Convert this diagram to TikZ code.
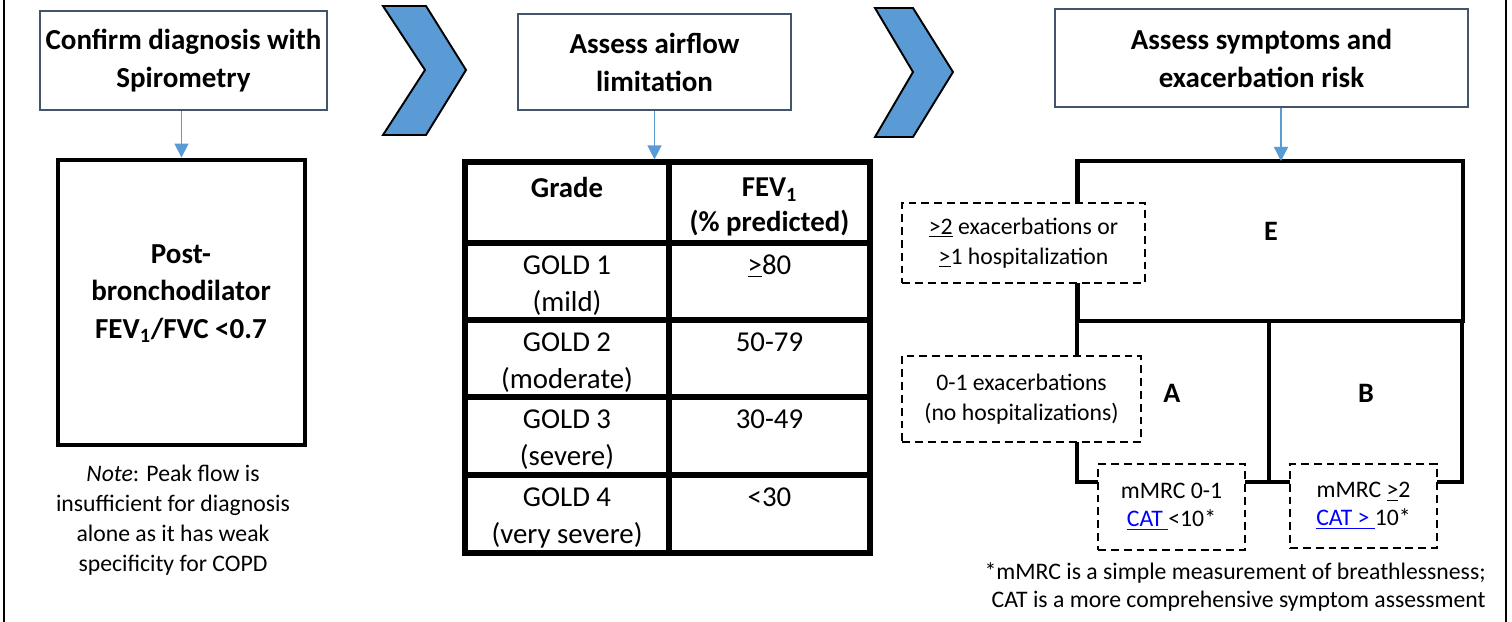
\documentclass[tikz,border=0pt]{standalone}
\usepackage{fontspec}
\setmainfont{Carlito}
\usetikzlibrary{arrows.meta, positioning, calc}
\definecolor{ink}{HTML}{000000}
\definecolor{slate}{HTML}{44546A}
\definecolor{flowblue}{HTML}{5B9BD5}
\definecolor{linkblue}{HTML}{0000FF}

\begin{document}
\begin{tikzpicture}[
  x=0.02cm, y=-0.02cm,
  headbox/.style={draw=slate, line width=1pt, rectangle, align=center, inner sep=2pt, font=\fontsize{16.5}{21.6}\selectfont\bfseries},
  thickbox/.style={draw=ink, line width=2.8pt, rectangle, inner sep=0pt},
  thickline/.style={draw=ink, line width=2.8pt, line join=miter},
  rule/.style={draw=ink, line width=3pt},
  note/.style={align=center, anchor=base, inner sep=0pt, font=\fontsize{13.5}{17}\selectfont},
  cell/.style={align=center, anchor=base, inner sep=0pt, font=\fontsize{16.4}{21}\selectfont},
  headcell/.style={cell, font=\fontsize{16.4}{19.4}\selectfont\bfseries},
  dashbox/.style={draw=ink, dash pattern=on 4.5pt off 2.8pt, line width=0.8pt, fill=white, rectangle, align=center, inner sep=0pt, font=\fontsize{13.5}{17}\selectfont},
  grouplabel/.style={font=\fontsize{16}{18}\selectfont\bfseries, inner sep=0pt},
  chevron/.style={draw=ink, fill=flowblue, line width=1.1pt, line join=miter},
  flow/.style={draw=flowblue, line width=0.8pt, -{Triangle[length=8pt, width=8pt]}},
  frame/.style={draw=ink, line width=1.1pt}
]
\useasboundingbox (0,0) rectangle (1512,622);
\draw[frame] (4,0) -- (4,622);
\draw[frame] (1506,0) -- (1506,622);

% step headers
\node[headbox, minimum width=5.74cm, minimum height=1.98cm] (confirm) at (183.5,60.5) {Confirm diagnosis with\\Spirometry};
\node[headbox, minimum width=5.46cm, minimum height=1.92cm] (airflow) at (654.5,62) {Assess airflow\\limitation};
\node[headbox, minimum width=8.26cm, minimum height=1.96cm] (symptoms) at (1261.5,58) {Assess symptoms and\\exacerbation risk};

\draw[chevron] (383,6) -- (426,6) -- (466,70) -- (426,135) -- (383,135) -- (425,70) -- cycle;
\draw[chevron] (875,8) -- (913,8) -- (953,72) -- (913,137) -- (875,137) -- (913,72) -- cycle;

% spirometry (base = last line)
\node[thickbox, minimum width=4.94cm, minimum height=5.7cm] (postbd) at (181.5,302.5) {};
\node[cell, font=\fontsize{16.5}{21.3}\selectfont\bfseries] (ratio) at (181,338) {Post-\\bronchodilator\\FEV\textsubscript{1}/FVC <0.7};
\node[note] (peaknote) at (173,571) {\textit{Note}: Peak flow is\\insufficient for diagnosis\\alone as it has weak\\specificity for COPD};
\draw[flow] (confirm.south -| postbd) -- (postbd.north);

% airflow table
\node[draw=ink, line width=3pt, rectangle, inner sep=0pt, minimum width=8.1cm, minimum height=7.82cm] (airtable) at (667.5,357.5) {};
\draw[rule] (669,162) -- (669,553);
\draw[rule] (465,243) -- (870,243);
\draw[rule] (465,320) -- (870,320);
\draw[rule] (465,397) -- (870,397);
\draw[rule] (465,475) -- (870,475);
\node[headcell] (gradehd) at (567,197) {Grade};
\node[headcell] (fevhd) at (769.5,231) {FEV\textsubscript{1}\\(\% predicted)};
\node[cell] (gold1) at (567,311) {GOLD 1\\(mild)};
\node[cell] (fev1) at (769.5,274) {\underline{>}80};
\node[cell] (gold2) at (567,388) {GOLD 2\\(moderate)};
\node[cell] (fev2) at (769.5,351) {50-79};
\node[cell] (gold3) at (567,465) {GOLD 3\\(severe)};
\node[cell] (fev3) at (769.5,428) {30-49};
\node[cell] (gold4) at (567,543) {GOLD 4\\(very severe)};
\node[cell] (fev4) at (769.5,506) {<30};
\draw[flow] (airflow.south) -- (airflow.south |- airtable.north);

% ABE grid
\node[thickbox, minimum width=7.72cm, minimum height=3.2cm] (boxE) at (1270,241) {};
\draw[thickline] (1077,321) -- (1077,482) -- (1462,482) -- (1462,321);
\draw[thickline] (1269,321) -- (1269,482);
\node[grouplabel] (labE) at (1271,231) {E};
\node[grouplabel] (labA) at (1172,393) {A};
\node[grouplabel] (labB) at (1366,393) {B};
\coordinate (eIn) at (1281,161);
\draw[flow] (symptoms.south -| eIn) -- (eIn);

\node[dashbox, minimum width=4.86cm, minimum height=1.6cm] (risk1) at (1023.5,243) {\underline{>2} exacerbations or\\\underline{>}1 hospitalization};
\node[dashbox, minimum width=4.78cm, minimum height=1.72cm] (risk0) at (1021.5,399) {0-1 exacerbations\\(no hospitalizations)};
\node[dashbox, minimum width=2.94cm, minimum height=1.72cm, font=\fontsize{13.5}{16}\selectfont] (symA) at (1171.5,507) {mMRC 0-1\\\textcolor{linkblue}{\underline{CAT }}<10*};
\node[dashbox, minimum width=2.94cm, minimum height=1.68cm, font=\fontsize{13.5}{16}\selectfont] (symB) at (1363.5,506) {mMRC \underline{>}2\\\textcolor{linkblue}{\underline{CAT > }}10*};

\node[note, align=right, anchor=base east, font=\fontsize{13.5}{15.4}\selectfont] (footnote) at (1486,607) {*mMRC is a simple measurement of breathlessness;\\CAT is a more comprehensive symptom assessment};
\end{tikzpicture}
\end{document}
